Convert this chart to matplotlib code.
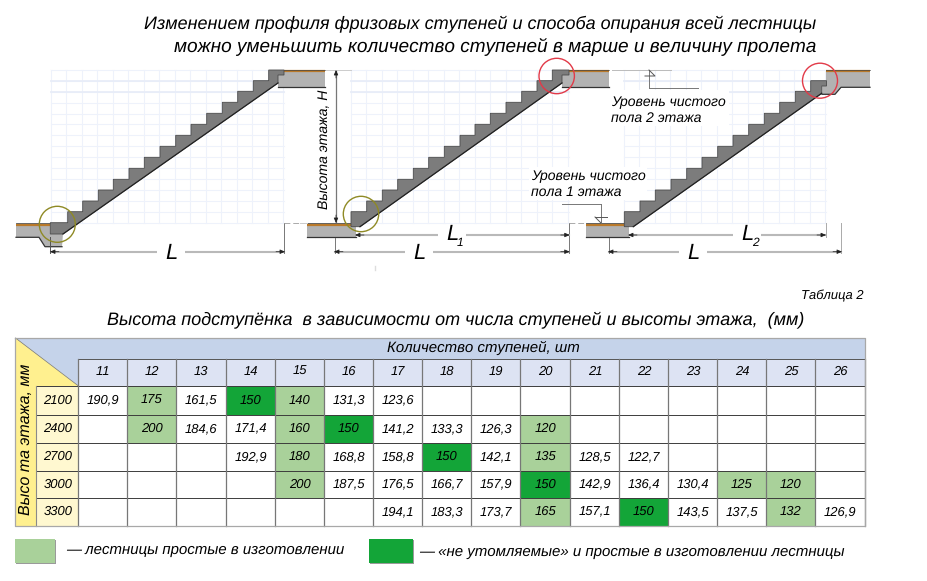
import matplotlib
matplotlib.use('Agg')
import matplotlib.pyplot as plt
from matplotlib.patches import Polygon, Rectangle, Circle

# table data
steps = [11, 12, 13, 14, 15, 16, 17, 18, 19, 20, 21, 22, 23, 24, 25, 26]
heights = [2100, 2400, 2700, 3000, 3300]
row_2100 = ['190,9', '175', '161,5', '150', '140', '131,3', '123,6', '', '', '', '', '', '', '', '', '']
row_2400 = ['', '200', '184,6', '171,4', '160', '150', '141,2', '133,3', '126,3', '120', '', '', '', '', '', '']
row_2700 = ['', '', '', '192,9', '180', '168,8', '158,8', '150', '142,1', '135', '128,5', '122,7', '', '', '', '']
row_3000 = ['', '', '', '', '200', '187,5', '176,5', '166,7', '157,9', '150', '142,9', '136,4', '130,4', '125', '120', '']
row_3300 = ['', '', '', '', '', '', '194,1', '183,3', '173,7', '165', '157,1', '150', '143,5', '137,5', '132', '126,9']
rows = [row_2100, row_2400, row_2700, row_3000, row_3300]
# (row, column) of coloured cells
light_cells = [(0, 1), (0, 4), (1, 1), (1, 4), (1, 9), (2, 4), (2, 9), (3, 4), (3, 13), (3, 14), (4, 9), (4, 14)]
dark_cells = [(0, 3), (1, 5), (2, 7), (3, 9), (4, 11)]

# stair profiles, picture pixels
levels = [222.7, 211.7, 201, 190, 179.3, 168.3, 157.3, 146.3, 135.3, 124.3, 113.3, 102.3, 91.3, 80.7, 70]
risers_1 = [67.7, 82.7, 98.3, 113.3, 129, 144.3, 160, 175.7, 191, 206.7, 222.3, 237.7, 253.3, 268.7]
risers_2 = [366.7, 382.3, 397.7, 413.3, 428.7, 444.3, 460, 475, 490.3, 506, 521.7, 537, 552.3]
risers_3 = [640, 655.3, 671, 686.7, 702, 717.7, 733, 748.7, 764.3, 779.7, 795.3, 810.7]

col_x = [78.5, 127.5, 176.5, 226, 275.5, 324.5, 373.5, 422.5, 471.5, 520.5, 570.5, 619.5, 668.5, 717.5, 766.5, 815.5, 865]
row_y = [386, 414.5, 442.5, 470.5, 498, 526]

GREY = '#b2b2b2'
STAIR = '#7c7c7c'
DIM = '#b9b9b9'
GRID = '#eef2fb'
FONT = ['Liberation Sans', 'DejaVu Sans']

plt.rcParams['font.family'] = FONT
plt.rcParams['font.style'] = 'italic'
plt.rcParams['text.hinting'] = 'none'
plt.rcParams['text.hinting_factor'] = 1

fig = plt.figure(figsize=(9.27, 5.81), dpi=100)
ax = fig.add_axes([0, 0, 1, 1])
ax.set_xlim(0, 927)
ax.set_ylim(581, 0)
ax.axis('off')


def grid(x0, x1, y0=70, y1=223):
    x = x0
    while x <= x1 + 0.5:
        ax.plot([x, x], [y0, y1], color=GRID, lw=0.8, zorder=1)
        x += 15.5
    y = y1
    while y >= y0 - 0.5:
        ax.plot([x0, x1], [y, y], color=GRID, lw=0.8, zorder=1)
        y -= 10.95
    for y in [81, 92]:
        ax.plot([x0, x1], [y, y], color='#e8edf8', lw=1.3, zorder=1)


def slab(points, stripe_x, stripe_y, bottom=None):
    ax.add_patch(Polygon(points, closed=True, fc=GREY, ec='none', zorder=3))
    ax.plot(stripe_x, [stripe_y, stripe_y], color='#b9792a', lw=1.6, zorder=4, solid_capstyle='butt')
    ax.plot(stripe_x, [stripe_y - 1.2, stripe_y - 1.2], color='#444444', lw=0.5, zorder=4)
    if bottom:
        ax.plot(*zip(*bottom), color='#333333', lw=0.9, zorder=4)


def stair(x0, y0, risers, tops, tail):
    pts = [(x0, y0), (x0, tops[0])]
    for i, x in enumerate(risers):
        pts += [(x, tops[i]), (x, tops[i + 1])]
    pts += tail
    ax.add_patch(Polygon(pts, closed=True, fc=STAIR, ec='#4a4a4a', lw=0.6, zorder=5, joinstyle='miter'))
    # underside is drawn darker than the treads
    ax.plot([tail[-2][0], tail[-1][0]], [tail[-2][1], tail[-1][1]], color='#222222', lw=0.9, zorder=5)


def dim_h(x0, x1, y, gaps=None):
    ax.plot([x0, x1], [y, y], color=DIM, lw=1.5, zorder=6)
    ax.annotate('', xy=(x0 - 1, y), xytext=(x0 + 8, y), zorder=7,
                arrowprops=dict(arrowstyle='-|>,head_width=0.13,head_length=0.3', color='#222222', lw=0.5, shrinkA=0, shrinkB=0))
    ax.annotate('', xy=(x1 + 1, y), xytext=(x1 - 8, y), zorder=7,
                arrowprops=dict(arrowstyle='-|>,head_width=0.13,head_length=0.3', color='#222222', lw=0.5, shrinkA=0, shrinkB=0))


def thin(xs, ys, color='#777777', lw=0.7, ls='-'):
    ax.plot(xs, ys, color=color, lw=lw, ls=ls, zorder=6)


def dim_label(x, y, main, sub=None):
    ax.add_patch(Rectangle((x - 14, y - 6), 28, 12, fc='white', ec='none', zorder=7))
    ax.text(x, y, main, fontsize=15.5, ha='center', va='center', zorder=8)
    if sub:
        ax.text(x + 8, y + 9, sub, fontsize=8.5, ha='center', va='center', zorder=8)


# grids behind the stairs
grid(51, 284)
grid(351, 569)
grid(624, 826)

# first stair
slab([(16, 223.3), (50, 223.3), (50, 234), (63, 234), (62, 246.7), (45, 246.7), (39, 237.3), (16, 237.3)],
     [16, 50], 224.5, [(16, 237.3), (39, 237.3), (45, 246.7), (62, 246.7)])
slab([(278, 75), (284, 75), (284, 70), (325, 70), (325, 87.3), (278, 87.3)],
     [284, 325], 71, [(278, 87.3), (325, 87.3)])
stair(50.3, 234, risers_1, levels, [(284, 70), (284, 75), (278, 75), (278, 83), (63, 234)])

# second stair
slab([(307, 223.3), (356, 223.3), (356, 237.3), (307, 237.3)], [307, 351], 224.5, [(307, 237.3), (356, 237.3)])
slab([(562, 75), (569, 75), (569, 70), (609, 70), (609, 87.3), (562, 87.3)],
     [569, 609], 71, [(562, 87.3), (609, 87.3)])
stair(351, 226.7, risers_2, levels[1:], [(569, 70), (569, 75), (562, 75), (562, 83), (360, 226.7)])

# third stair
slab([(586, 223.3), (629, 223.3), (629, 237.3), (586, 237.3)], [586, 624], 224.5, [(586, 237.3), (629, 237.3)])
slab([(826, 70), (870, 70), (870, 87.3), (841, 87.3), (835, 94.3), (822, 94.3), (822, 86), (826, 86)],
     [826, 870], 71, [(870, 87.3), (841, 87.3), (835, 94.3), (822, 94.3)])
stair(624.3, 226.7, risers_3, levels[1:-1], [(826.5, 80.7), (826.5, 86), (821.7, 86), (821.7, 93.3), (633.3, 226.7)])

# circles
for cx, cy, r, c in [(57.3, 224.3, 18, '#8f8a25'), (361, 214, 17.7, '#8f8a25'), (556.7, 76, 17.7, '#e23a48'), (820, 80.7, 17.5, '#e23a48')]:
    ax.add_patch(Circle((cx, cy), r, fc='none', ec=c, lw=1.0, zorder=7))

# dimensions
dim_h(51, 284, 251.7)
dim_label(171, 253, 'L')
thin([50.5, 50.5], [237, 253], '#555555')
thin([284, 284], [223, 253], '#777777')
thin([284, 305], [223, 223], '#aaaaaa', ls=(0, (6, 3)))

dim_h(335, 568.7, 251.7)
dim_label(419, 253, 'L')
thin([335, 335], [238, 253])
thin([568.7, 568.7], [223, 253])
dim_h(356, 568.7, 235)
dim_label(452, 234, 'L', '1')
thin([569, 585], [223, 223], '#aaaaaa', ls=(0, (6, 3)))

dim_h(609, 841, 251.7)
dim_label(693, 253, 'L')
thin([609, 609], [238, 253])
thin([841, 841], [223, 253], '#aaaaaa')
dim_h(629, 825, 235)
dim_label(747, 234, 'L', '2')
thin([826, 826], [223, 237], '#aaaaaa')

# floor height
ax.plot([336, 336], [71, 222], color='#777777', lw=0.9, zorder=6)
for tip, tail_y in [(70, 78), (223, 215)]:
    ax.annotate('', xy=(336, tip), xytext=(336, tail_y), zorder=7,
                arrowprops=dict(arrowstyle='-|>,head_width=0.13,head_length=0.3', color='#222222', lw=0.5, shrinkA=0, shrinkB=0))
thin([326, 351], [70, 70], '#cccccc')
thin([300, 307], [223, 223], '#cccccc')
ax.text(325, 149, 'Высота этажа, H', rotation=90, fontsize=10.4, ha='center', va='center', zorder=8)

# floor level notes
ax.add_patch(Rectangle((609, 90), 120, 36, fc='white', ec='none', zorder=2))
thin([612, 671], [70, 70], '#bbbbbb')
thin([649, 649], [70, 88])
thin([649, 698], [88, 88])
thin([649, 655, 645], [70, 76, 76], '#555555')
ax.text(611, 102, 'Уровень чистого', fontsize=9.9, va='center', zorder=8)
ax.text(611, 118, 'пола 2 этажа', fontsize=9.9, va='center', zorder=8)
ax.add_patch(Rectangle((529, 167), 118, 33, fc='white', ec='none', zorder=2))
thin([562, 601], [204, 204])
thin([601, 601], [204, 223])
thin([595, 607], [217, 217], '#555555')
thin([595, 601], [217, 223], '#555555')
ax.text(531, 176, 'Уровень чистого', fontsize=9.9, va='center', zorder=8)
ax.text(531, 192, 'пола 1 этажа', fontsize=9.9, va='center', zorder=8)
thin([375, 375], [266, 270], '#dddddd', lw=1.0)

# titles
ax.text(480.5, 24.5, 'Изменением профиля фризовых ступеней и способа опирания всей лестницы', fontsize=13.2, ha='center', va='center')
ax.text(495.5, 46.5, 'можно уменьшить количество ступеней в марше и величину пролета', fontsize=13.85, ha='center', va='center')
ax.text(864, 296, 'Таблица 2', fontsize=9.5, ha='right', va='center')
ax.text(455.5, 320.5, 'Высота подступёнка  в зависимости от числа ступеней и высоты этажа,  (мм)', fontsize=13.15, ha='center', va='center')

# table backgrounds
top, head, bottom = 338, 358.5, 526
ax.add_patch(Rectangle((15.5, top), col_x[-1] - 15.5, head - top, fc='#c5d3ea', ec='none', zorder=1))
ax.add_patch(Polygon([(15.5, top), (78.5, row_y[0]), (78.5, head)], closed=True, fc='#c5d3ea', ec='none', zorder=1))
ax.add_patch(Rectangle((78.5, head), col_x[-1] - 78.5, row_y[0] - head, fc='#dde3f3', ec='none', zorder=1))
ax.add_patch(Polygon([(15.5, top), (78.5, row_y[0]), (36.5, row_y[0]), (36.5, bottom), (15.5, bottom)],
                     closed=True, fc='#fff08f', ec='none', zorder=1))
ax.add_patch(Rectangle((36.5, row_y[0]), 42, bottom - row_y[0], fc='#fff8d0', ec='none', zorder=1))

for cells, color in [(light_cells, '#a9d19a'), (dark_cells, '#13a538')]:
    for r, c in cells:
        ax.add_patch(Rectangle((col_x[c], row_y[r]), col_x[c + 1] - col_x[c], row_y[r + 1] - row_y[r],
                               fc=color, ec='none', zorder=2))

# table lines
for y in row_y:
    ax.plot([36.5, col_x[-1]], [y, y], color='#3c3c3c', lw=0.7, zorder=3)
ax.plot([78.5, col_x[-1]], [head, head], color='#555555', lw=0.7, zorder=3)
for x in col_x:
    ax.plot([x, x], [head, bottom], color='#777777', lw=0.9, zorder=3)
ax.plot([36.5, 36.5], [row_y[0], bottom], color='#8a8a8a', lw=0.8, zorder=3)
ax.plot([15.5, 78.5], [top, row_y[0]], color='#777777', lw=0.5, zorder=3)
ax.plot([15.5, col_x[-1], col_x[-1], 15.5, 15.5], [top, top, bottom, bottom, top], color='#a8a8a8', lw=0.9, zorder=3)

# table texts
ax.text(483, 347.5, 'Количество ступеней, шт', fontsize=11, ha='center', va='center', zorder=4)
ax.text(26, 439, 'Высо та этажа, мм', rotation=90, fontsize=11.6, ha='center', va='center', zorder=4)
for i, s in enumerate(steps):
    ax.text((col_x[i] + col_x[i + 1]) / 2, 372, str(s), fontsize=9.6, ha='center', va='center', zorder=4)
for j, h in enumerate(heights):
    yc = (row_y[j] + row_y[j + 1]) / 2
    ax.text(58, yc, str(h), fontsize=9.6, ha='center', va='center', zorder=4)
    for i, v in enumerate(rows[j]):
        if v:
            ax.text((col_x[i] + col_x[i + 1]) / 2, yc, v, fontsize=9.6, ha='center', va='center', zorder=4)

# legend
ax.add_patch(Rectangle((16, 540), 40, 24, fc='#9a9a9a', ec='none', zorder=1))
ax.add_patch(Rectangle((15, 538.5), 40, 24, fc='#a9d19a', ec='none', zorder=2))
ax.add_patch(Rectangle((370, 540), 44, 24, fc='#9a9a9a', ec='none', zorder=1))
ax.add_patch(Rectangle((369, 538.5), 44, 24, fc='#13a538', ec='none', zorder=2))
ax.text(66, 550, '— лестницы простые в изготовлении', fontsize=11.1, va='center')
ax.text(419, 552, '— «не утомляемые» и простые в изготовлении лестницы', fontsize=11.1, va='center')

fig.savefig('out.png', dpi=100)
